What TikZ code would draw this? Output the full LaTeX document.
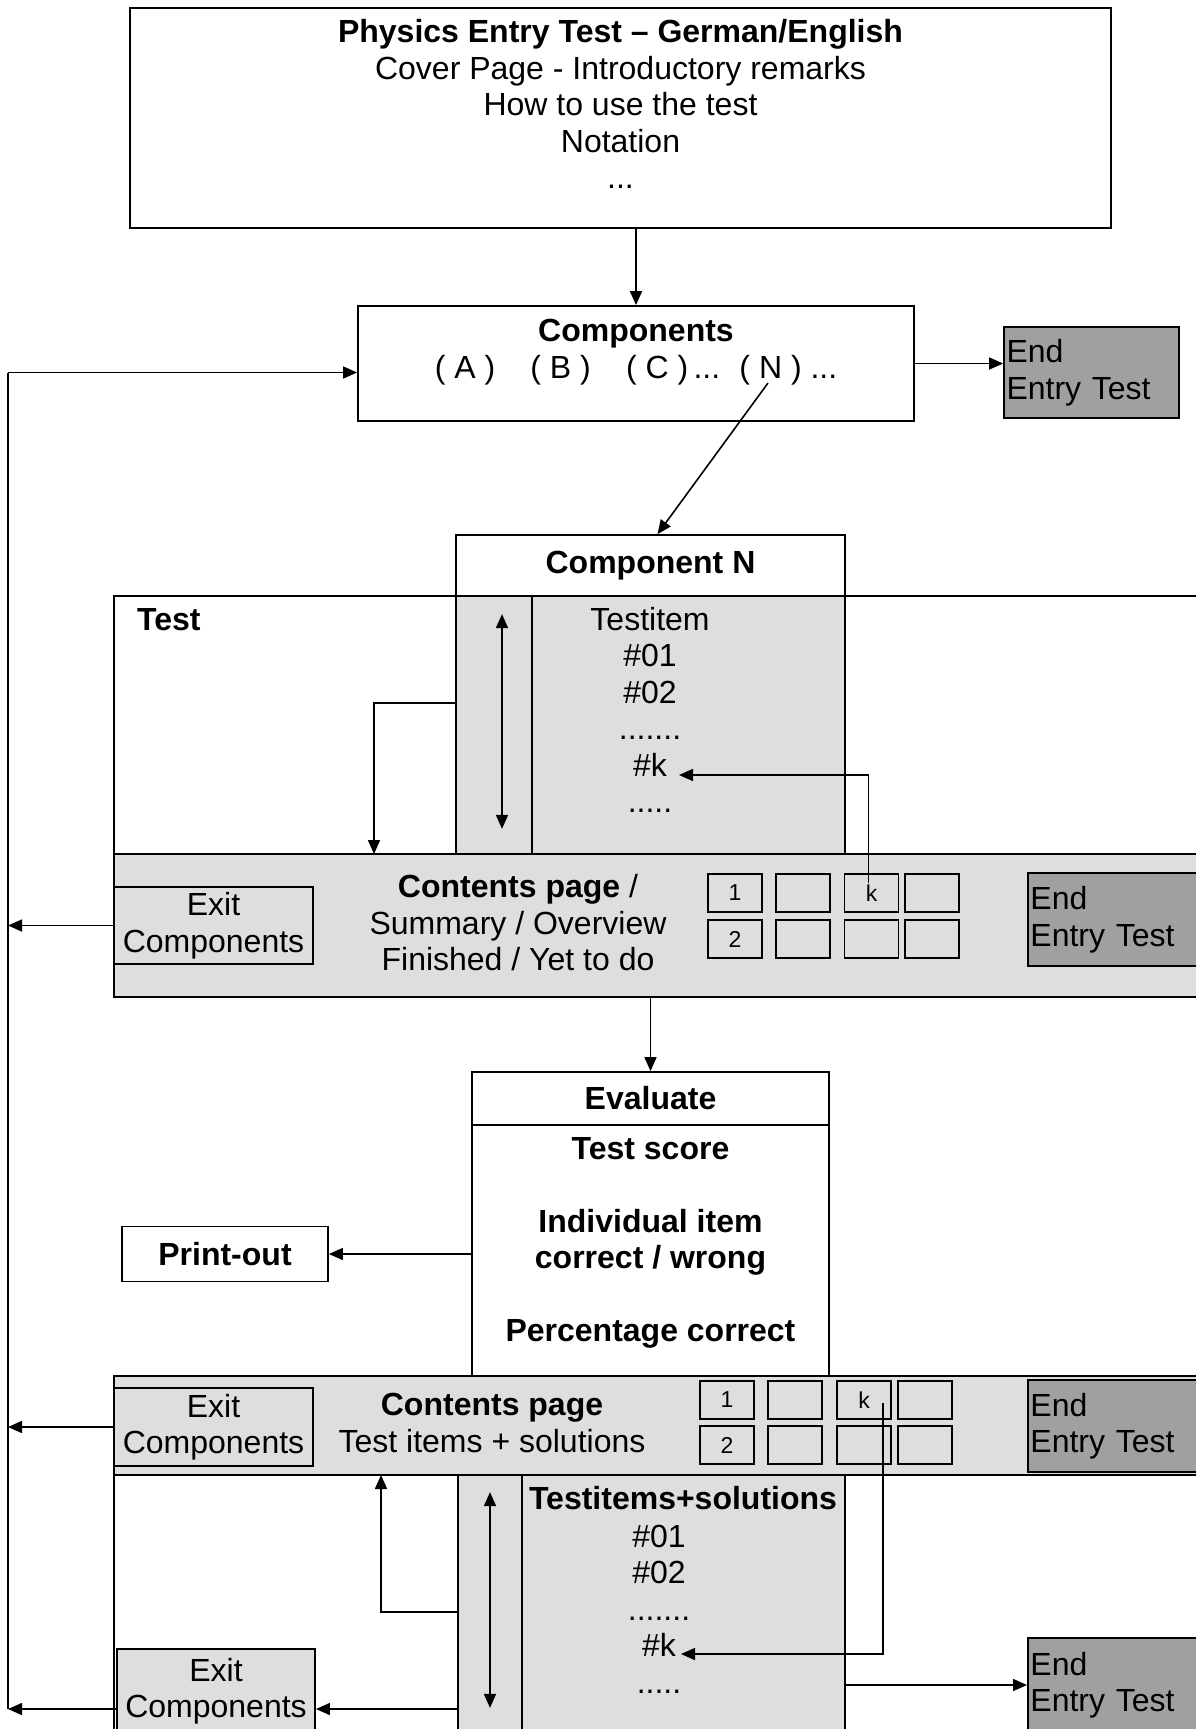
\documentclass[tikz,border=0pt]{standalone}
\usepackage{fontspec}
\setmainfont{Liberation Sans}
\definecolor{panelgray}{RGB}{222,222,222}
\definecolor{endgray}{RGB}{160,160,160}
\usetikzlibrary{arrows.meta,positioning,calc}

\begin{document}
\begin{tikzpicture}[
  x=1pt,y=-1pt,
  every node/.style={font=\fontsize{32}{36.5}\selectfont},
  heading/.style={font=\fontsize{32}{36.5}\selectfont\bfseries},
  frame/.style={draw,line width=1.8pt,inner sep=0pt},
  shaded/.style={frame,fill=panelgray},
  endbox/.style={draw,line width=1.8pt,fill=endgray,align=left,inner xsep=2.5pt,inner ysep=0pt},
  cell/.style={draw,line width=1.4pt,minimum width=54pt,minimum height=38pt,inner sep=0pt,
    font=\fontsize{23}{27}\selectfont},
  txt/.style={align=center,inner sep=0pt},
  arr/.style={-{Stealth[length=14pt,width=12pt,inset=0pt]},line width=1.6pt},
  dbl/.style={{Stealth[length=14pt,width=12pt,inset=0pt]}-{Stealth[length=14pt,width=12pt,inset=0pt]},line width=1.6pt},
  wire/.style={line width=1.6pt}
]
  \useasboundingbox (0,0) rectangle (1196,1729);
  \clip (0,0) rectangle (1196,1729);
  % Cover page and components
  \node[frame,minimum width=981pt,minimum height=220pt] (cover) at (620.5,118) {};
  \node[txt] (covertxt) at (620.5,104) {\textbf{Physics Entry Test -- German/English}\\Cover Page - Introductory remarks\\How to use the test\\Notation\\...};
  \node[frame,minimum width=556pt,minimum height=115pt] (comps) at (636,363.5) {};
  \node[txt] (compstxt) at (636,352) {\textbf{Components}\\( A )\hspace{1.1em}( B )\hspace{1.1em}( C )\,...\hspace{0.6em}( N ) ...};
  \coordinate (nmark) at (768,383);
  \node[endbox,text width=170pt,minimum height=91pt] (endA) at (1091.5,372.5) {End\\Entry Test};
  % Component N -- test items
  \node[frame,heading,minimum width=389pt,minimum height=61pt] (compN) at (650.5,565.5) {Component N};
  \node[frame,minimum width=1140pt,minimum height=258pt] (testA) at (684,725) {};
  \node[txt,heading,anchor=west] (testlbl) at (137,620) {Test};
  \node[shaded,minimum width=76pt,minimum height=258pt] (scrollAbar) at (494,725) {};
  \node[shaded,minimum width=313pt,minimum height=258pt] (scrollAlist) at (688.5,725) {};
  \node[txt] (listA) at (650,710) {Testitem\\\#01\\\#02\\.......\\\#k\\.....};
  \coordinate (kA) at (679,775);
  \coordinate (upA) at (374,854);
  % Contents page / summary
  \node[shaded,minimum width=1140pt,minimum height=143pt] (bandA) at (684,925.5) {};
  \node[shaded,align=center,minimum width=199pt,minimum height=77pt] (exitA) at (213.5,925.5) {Exit\\Components};
  \node[txt] (contA) at (518,923) {\textbf{Contents page} /\\Summary / Overview\\Finished / Yet to do};
  \node[cell] (A11) at (735,893) {1};
  \node[cell] (A12) at (803,893) {};
  \node[cell] (A13) at (871.5,893) {k};
  \node[cell] (A14) at (932,893) {};
  \node[cell] (A21) at (735,939) {2};
  \node[cell] (A22) at (803,939) {};
  \node[cell] (A23) at (871.5,939) {};
  \node[cell] (A24) at (932,939) {};
  \node[endbox,text width=220pt,minimum height=93pt,anchor=west] (endB) at (1027,919.5) {End\\Entry Test};
  % Evaluate
  \node[frame,heading,minimum width=357pt,minimum height=53pt] (evalhead) at (650.5,1098.5) {Evaluate};
  \node[frame,fill=white,minimum width=357pt,minimum height=251pt] (evalbody) at (650.5,1250.5) {};
  \node[txt,heading] (evaltxt) at (650.5,1243) {Test score\\[36.5pt]Individual item\\correct / wrong\\[36.5pt]Percentage correct};
  \node[frame,heading,minimum width=206pt,minimum height=55pt] (printout) at (225,1254) {Print-out};
  % Contents page / solutions
  \node[shaded,minimum width=1140pt,minimum height=99pt] (bandB) at (684,1425.5) {};
  \node[shaded,align=center,minimum width=199pt,minimum height=78pt] (exitB) at (213.5,1427) {Exit\\Components};
  \node[txt] (contB) at (492,1423) {\textbf{Contents page}\\Test items + solutions};
  \node[cell] (B11) at (727,1400) {1};
  \node[cell] (B12) at (795,1400) {};
  \node[cell] (B13) at (864,1400) {k};
  \node[cell] (B14) at (925,1400) {};
  \node[cell] (B21) at (727,1445) {2};
  \node[cell] (B22) at (795,1445) {};
  \node[cell] (B23) at (864,1445) {};
  \node[cell] (B24) at (925,1445) {};
  \node[endbox,text width=220pt,minimum height=92pt,anchor=west] (endC) at (1027,1426) {End\\Entry Test};
  % Test items + solutions
  \node[frame,minimum width=1140pt,minimum height=274pt] (testB) at (684,1612) {};
  \node[shaded,minimum width=64pt,minimum height=274pt] (scrollBbar) at (490,1612) {};
  \node[shaded,minimum width=323pt,minimum height=274pt] (scrollBlist) at (683.5,1612) {};
  \node[txt,heading] (solhead) at (683,1498) {Testitems+solutions};
  \node[txt] (listB) at (659,1609) {\#01\\\#02\\.......\\\#k\\.....};
  \coordinate (kB) at (681,1654);
  \coordinate (upB) at (381,1475);
  \node[endbox,text width=220pt,minimum height=94pt,anchor=west] (endD) at (1027,1685) {End\\Entry Test};
  \node[shaded,align=center,minimum width=198pt,minimum height=84pt] (exitC) at (216,1691) {Exit\\Components};
  \coordinate (exitCin) at ([yshift=-18pt]exitC.east);
  \coordinate (exitCout) at ([yshift=-18pt]exitC.west);
  % Left return line
  \coordinate (rail) at (8,372.5);
  \coordinate (railend) at (8,1709);
  % Arrows
  \draw[arr] (comps.north |- cover.south) -- (comps.north);
  \draw[arr] (comps.east) -- (comps.east -| endA.west);
  \draw[arr] (nmark) -- ([xshift=7pt]compN.north);
  \draw[dbl] ([xshift=8pt,yshift=-19pt]scrollAbar.north) -- ([xshift=8pt,yshift=26pt]scrollAbar.south);
  \draw[arr] ([yshift=22pt]scrollAbar.west) -| (upA);
  \draw[arr] ([xshift=-3pt,yshift=10pt]A13.center) |- (kA);
  \draw[arr] (evalhead.north |- bandA.south) -- (evalhead.north);
  \draw[arr] (printout.east -| evalbody.west) -- (printout.east);
  \draw[dbl] ([yshift=-18pt]scrollBbar.north) -- ([yshift=42pt]scrollBbar.south);
  \draw[arr] (scrollBbar.west) -| (upB);
  \draw[arr] ([xshift=19pt,yshift=-3pt]B13.center) |- (kB);
  \draw[arr] (scrollBlist.east |- endD.west) -- (endD.west);
  \draw[arr] (exitCin -| scrollBbar.west) -- (exitCin);
  % Exits
  \draw[wire] (rail) -- (railend);
  \draw[arr] (rail) -- (rail -| comps.west);
  \draw[arr] (exitA.west) -- (exitA.west -| rail);
  \draw[arr] (exitB.west) -- (exitB.west -| rail);
  \draw[arr] (exitCout) -- (railend);
\end{tikzpicture}
\end{document}
